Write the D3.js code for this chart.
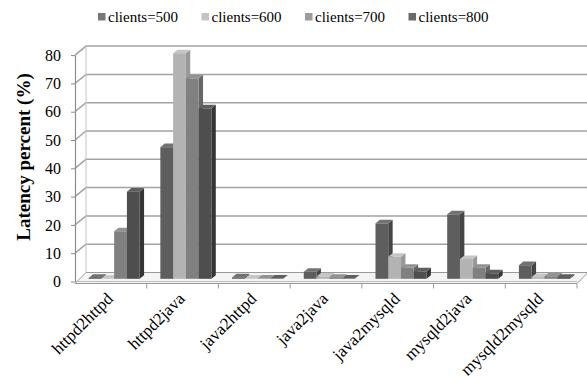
<!DOCTYPE html>
<html>
<head>
<meta charset="utf-8">
<script src="https://cdn.jsdelivr.net/npm/d3@7"></script>
<style>
  body { margin: 0; background: #fff; }
</style>
</head>
<body>
<div id="chart"></div>
<script>
var categories = ["httpd2httpd", "httpd2java", "java2httpd", "java2java", "java2mysqld", "mysqld2java", "mysqld2mysqld"];
var seriesNames = ["clients=500", "clients=600", "clients=700", "clients=800"];
var clients500 = [0.3, 46.5, 0.5, 2.5, 19.6, 22.8, 4.8];
var clients600 = [0, 79.7, 0.1, 0.8, 7.8, 7.0, 0.6];
var clients700 = [16.8, 70.8, 0.1, 0.3, 3.9, 3.9, 0.9];
var clients800 = [30.8, 60.2, 0.1, 0.1, 2.6, 1.9, 0.3];
var yTicks = [0, 10, 20, 30, 40, 50, 60, 70, 80];

var allSeries = [clients500, clients600, clients700, clients800];

var serif = "Liberation Serif";

// face colours: front, side, top, legend
var colors = [
  {front: "#5e5e5e", side: "#454545", top: "#727272", legend: "#777777"},
  {front: "#b3b3b3", side: "#999999", top: "#c6c6c6", legend: "#c4c4c4"},
  {front: "#808080", side: "#666666", top: "#939393", legend: "#9c9c9c"},
  {front: "#4e4e4e", side: "#353535", top: "#5f5f5f", legend: "#6a6a6a"}
];

var W = 587, H = 381;
var depthX = 11, depthY = -9;   // offset from front plane to back wall
var floorY = 281.5;

var svg = d3.select("#chart")
  .append("svg")
    .attr("width", W)
    .attr("height", H);

// front plane scales
var x0 = d3.scaleBand()
  .domain(categories)
  .range([75, 577])
  .padding(0);

var x1 = d3.scaleBand()
  .domain(seriesNames)
  .range([0, x0.bandwidth()])
  .paddingInner(0)
  .paddingOuter(0.81);

var y = d3.scaleLinear()
  .domain([0, 80])
  .range([floorY, floorY - 226.4]);

function px(x, d) { return x + d * depthX; }
function py(yy, d) { return yy + d * depthY; }

// floor
var fx0 = x0.range()[0], fx1 = x0.range()[1];
svg.append("path")
  .attr("d", "M" + fx0 + "," + (floorY + 2) + "L" + fx1 + "," + (floorY + 2) +
    "L" + px(fx1, 1) + "," + py(floorY, 1) + "L" + px(fx0, 1) + "," + py(floorY, 1) + "Z")
  .attr("fill", "#f4f4f4")
  .attr("stroke", "#9a9a9a")
  .attr("stroke-width", 1);
svg.append("line")
  .attr("x1", fx0).attr("x2", fx1)
  .attr("y1", floorY).attr("y2", floorY)
  .attr("stroke", "#bdbdbd");

// gridlines: left wall diagonal then back wall
svg.selectAll(".grid")
  .data(yTicks.slice(1))
  .enter()
  .append("path")
    .attr("class", "grid")
    .attr("d", function(d) {
      return "M" + fx0 + "," + y(d) + "L" + px(fx0, 1) + "," + py(y(d), 1) + "L" + W + "," + py(y(d), 1);
    })
    .attr("fill", "none")
    .attr("stroke", "#a3a3a3")
    .attr("stroke-width", 1.5);

// back wall left edge
svg.append("line")
  .attr("x1", px(fx0, 1)).attr("x2", px(fx0, 1))
  .attr("y1", py(y(80), 1)).attr("y2", py(y(0), 1))
  .attr("stroke", "#c4c4c4");

// y axis on the front-left edge
var yAxis = svg.append("g")
  .attr("transform", "translate(" + fx0 + ",0)")
  .call(d3.axisLeft(y).tickValues(yTicks).tickSize(4).tickSizeOuter(0).tickPadding(10));
yAxis.select(".domain").attr("stroke", "#8c8c8c").attr("stroke-width", 1.2);
yAxis.selectAll(".tick line").attr("stroke", "#8c8c8c");
yAxis.selectAll("text")
  .attr("font-family", serif)
  .attr("font-size", 16)
  .attr("fill", "#000");

// category ticks on the floor front edge
svg.selectAll(".xtick")
  .data(categories)
  .enter()
  .append("line")
    .attr("class", "xtick")
    .attr("x1", function(d) { return x0(d) + x0.bandwidth(); })
    .attr("x2", function(d) { return x0(d) + x0.bandwidth(); })
    .attr("y1", floorY + 2)
    .attr("y2", floorY + 7)
    .attr("stroke", "#9a9a9a");

// bars, drawn left to right so later faces cover earlier sides
var d0 = 0.3, d1 = 0.7;
var bars = [];
categories.forEach(function(c, i) {
  seriesNames.forEach(function(s, j) {
    bars.push({cat: c, series: s, j: j, value: allSeries[j][i]});
  });
});

var barG = svg.selectAll(".bar")
  .data(bars)
  .enter()
  .append("g")
    .attr("class", "bar");

barG.each(function(d) {
  var g = d3.select(this);
  var xl = px(x0(d.cat) + x1(d.series), d0);
  var xr = xl + x1.bandwidth();
  var yt = py(y(d.value), d0);
  var yb = py(y(0), d0);
  var dx = (d1 - d0) * depthX, dy = (d1 - d0) * depthY;
  var col = colors[d.j];
  // side
  g.append("path")
    .attr("d", "M" + xr + "," + yb + "L" + xr + "," + yt + "L" + (xr + dx) + "," + (yt + dy) +
      "L" + (xr + dx) + "," + (yb + dy) + "Z")
    .attr("fill", col.side);
  // top
  g.append("path")
    .attr("d", "M" + xl + "," + yt + "L" + xr + "," + yt + "L" + (xr + dx) + "," + (yt + dy) +
      "L" + (xl + dx) + "," + (yt + dy) + "Z")
    .attr("fill", col.top);
  // front
  g.append("rect")
    .attr("x", xl)
    .attr("y", yt)
    .attr("width", x1.bandwidth())
    .attr("height", Math.max(0, yb - yt))
    .attr("fill", col.front);
});

// category labels
svg.selectAll(".xlabel")
  .data(categories)
  .enter()
  .append("text")
    .attr("class", "xlabel")
    .attr("transform", function(d) {
      return "translate(" + (x0(d) + x0.bandwidth() / 2 - 1) + "," + (floorY + 14) + ")rotate(-45)";
    })
    .attr("text-anchor", "end")
    .attr("dy", "0.35em")
    .attr("font-family", serif)
    .attr("font-size", 17)
    .text(function(d) { return d; });

// y axis title
svg.append("text")
  .attr("transform", "translate(23,157)rotate(-90)")
  .attr("text-anchor", "middle")
  .attr("dy", "0.35em")
  .attr("font-family", serif)
  .attr("font-size", 19)
  .attr("font-weight", "bold")
  .text("Latency percent (%)");

// legend
var legend = svg.selectAll(".legend")
  .data(seriesNames)
  .enter()
  .append("g")
    .attr("class", "legend")
    .attr("transform", function(d, i) { return "translate(" + (98 + i * 103.5) + ",13)"; });
legend.append("rect")
  .attr("width", 7.5)
  .attr("height", 7.5)
  .attr("fill", function(d, i) { return colors[i].legend; });
legend.append("text")
  .attr("x", 10)
  .attr("y", 8.5)
  .attr("font-family", serif)
  .attr("font-size", 15)
  .text(function(d) { return d; });
</script>
</body>
</html>
